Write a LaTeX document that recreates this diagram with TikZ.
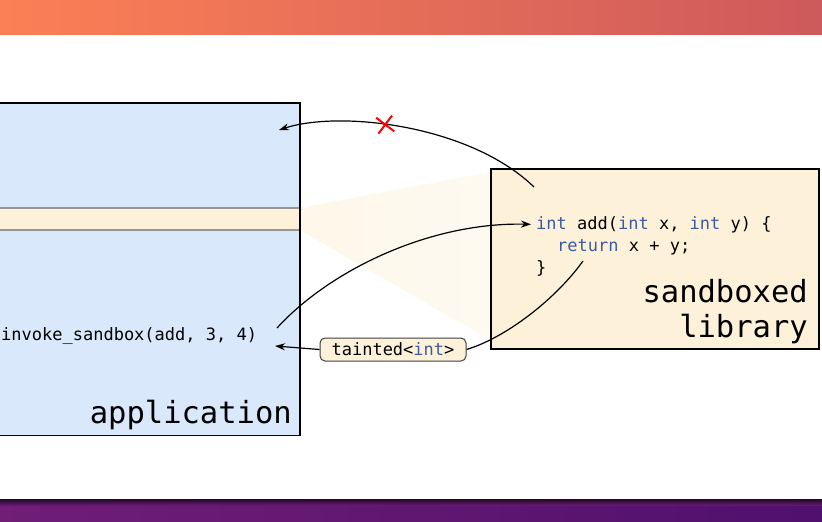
\documentclass[tikz,border=0pt]{standalone}
\usepackage{fontspec}
\setmonofont{DejaVu Sans Mono}
\usetikzlibrary{arrows.meta,shapes.misc}

\definecolor{appblue}{RGB}{218,232,252}
\definecolor{libcream}{RGB}{253,242,217}
\definecolor{kwblue}{RGB}{59,91,165}
\definecolor{bandgray}{RGB}{150,150,150}
\definecolor{topleft}{RGB}{252,128,85}
\definecolor{topright}{RGB}{205,90,92}
\definecolor{botleft}{RGB}{112,30,118}
\definecolor{botright}{RGB}{80,16,110}
\definecolor{botedge}{RGB}{35,8,35}

\newcommand{\kw}[1]{\textcolor{kwblue}{#1}}

\tikzset{
  code/.style={font=\ttfamily\fontsize{17}{22}\selectfont, inner sep=0pt},
  title/.style={font=\ttfamily\fontsize{30.5}{35}\selectfont, inner sep=0pt},
  flow/.style={line width=1.2pt, -{Stealth[length=10pt,width=7pt]}},
}

\begin{document}
\begin{tikzpicture}[x=1pt,y=-1pt]
\useasboundingbox (0,0) rectangle (822,522);
\clip (0,0) rectangle (822,522);

% backdrop bands
\fill[white] (0,0) rectangle (822,522);
\shade[left color=topleft, right color=topright] (0,0) rectangle (822,34);
\shade[left color=botleft, right color=botright] (0,499) rectangle (822,522);
\shade[top color=botedge, bottom color=botleft!60!botright] (0,499) rectangle (822,505);

% boxes
\node[fill=appblue, minimum width=310pt, minimum height=332pt, anchor=north east] (app) at (300,103) {};
\shade[left color=libcream!55, right color=libcream!40] (300,208) -- (490,172) -- (490,340) -- (300,230) -- cycle;
\fill[libcream] (-5,208) rectangle (300,230);
\draw[bandgray, line width=1.2pt] (-5,208) -- (300,208) (-5,230) -- (300,230);
\draw[line width=1.8pt] (app.south west) rectangle (app.north east);
\node[draw, line width=1.8pt, fill=libcream, minimum width=328pt, minimum height=180pt, anchor=north west] (lib) at (490,168) {};

% labels
\node[title, anchor=base east] (applabel) at (292,423) {application};
\node[title, anchor=base east] (libtop) at (808,302) {sandboxed};
\node[title, anchor=base east] (libbot) at (808,337) {library};

% code
\node[code, anchor=base west] (sig) at (536,229) {\kw{int} add(\kw{int} x, \kw{int} y) \{};
\node[code, anchor=base west] (ret) at (557,251) {\kw{return} x + y;};
\node[code, anchor=base west] (close) at (536,273) {\}};
\node[code, anchor=base west] (call) at (1,340) {invoke\_sandbox(add, 3, 4)};
\node[code, draw=black!75, line width=1pt, fill=libcream, rounded corners=5pt, minimum width=146pt, minimum height=23pt] (taint) at (393,349.5) {tainted<\kw{int}>};

% connectors
\coordinate (escape) at (534,187);
\coordinate (appin) at (279,130);
\coordinate (callout) at (277,328);
\coordinate (retout) at (583,261);
\coordinate (callback) at (275,346);

\draw[flow] (escape) .. controls (470,125) and (340,110) .. (appin)
  node[pos=0.57, cross out, draw=red, line width=2pt, minimum size=14pt, inner sep=0pt, rotate=8] (stop) {};
\draw[flow] (callout) .. controls (330,270) and (430,222) .. ([xshift=-5pt]sig.west);
\draw[line width=1.2pt] (retout) .. controls (555,300) and (505,338) .. (taint.east);
\draw[flow] (taint.west) -- (callback);
\end{tikzpicture}
\end{document}
